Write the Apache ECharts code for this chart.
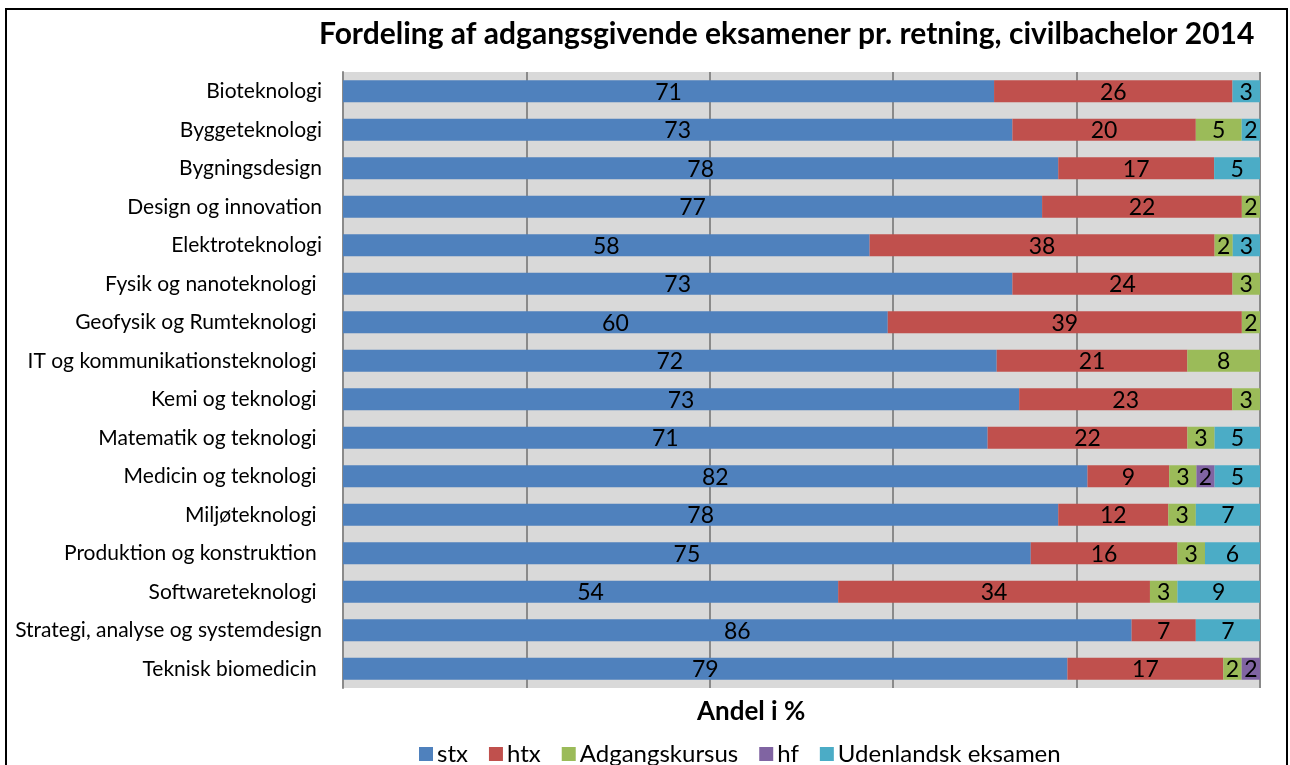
<!DOCTYPE html>
<html>
<head>
<meta charset="utf-8">
<title>Fordeling af adgangsgivende eksamener</title>
<script src="https://cdn.jsdelivr.net/npm/echarts@6/dist/echarts.min.js"></script>
<style>
  html, body { margin: 0; padding: 0; background: #fff; }
  #chart { width: 1290px; height: 765px; }
</style>
</head>
<body>
<div id="chart"></div>
<script>
// retninger (trailing spaces as in the source sheet)
var categories = [
  'Bioteknologi', 'Byggeteknologi', 'Bygningsdesign', 'Design og innovation',
  'Elektroteknologi', 'Fysik og nanoteknologi ', 'Geofysik og Rumteknologi ',
  'IT og kommunikationsteknologi ', 'Kemi og teknologi ', 'Matematik og teknologi ',
  'Medicin og teknologi ', 'Miljøteknologi ', 'Produktion og konstruktion ',
  'Softwareteknologi ', 'Strategi, analyse og systemdesign', 'Teknisk biomedicin '
]
var stx = [71, 73, 78, 77, 58, 73, 60, 72, 73, 71, 82, 78, 75, 54, 86, 79]
var htx = [26, 20, 17, 22, 38, 24, 39, 21, 23, 22, 9, 12, 16, 34, 7, 17]
var adgangskursus = [0, 5, 0, 2, 2, 3, 2, 8, 3, 3, 3, 3, 3, 3, 0, 2]
var hf = [0, 0, 0, 0, 0, 0, 0, 0, 0, 0, 2, 0, 0, 0, 0, 2]
var udenlandsk = [3, 2, 5, 0, 3, 0, 0, 0, 0, 5, 5, 7, 6, 9, 7, 0]

var seriesDefs = [
  { name: 'stx', values: stx, color: '#4f81bd' },
  { name: 'htx', values: htx, color: '#c0504d' },
  { name: 'Adgangskursus', values: adgangskursus, color: '#9bbb59' },
  { name: 'hf', values: hf, color: '#8064a2' },
  { name: 'Udenlandsk eksamen', values: udenlandsk, color: '#4bacc6' }
]

// 100% stacked: scale each row to its total, keep the label as read
var rowTotals = categories.map(function (c, i) {
  return seriesDefs.reduce(function (s, d) { return s + d.values[i] }, 0)
})

var font = 'Lato, "Open Sans", sans-serif'

var chart = echarts.init(document.getElementById('chart'))
chart.setOption({
  animation: false,
  textStyle: { fontFamily: font },
  title: {
    text: 'Fordeling af adgangsgivende eksamener pr. retning, civilbachelor 2014',
    left: 314,
    top: 14,
    textStyle: { fontFamily: font, fontSize: 30, fontWeight: 'bold', color: '#000' }
  },
  legend: {
    left: 414,
    top: 737,
    icon: 'rect',
    itemWidth: 14,
    itemHeight: 14,
    itemGap: 21,
    itemStyle: { borderWidth: 0 },
    textStyle: { fontFamily: font, fontSize: 24, color: '#000', padding: [0, 0, 0, -1] },
    data: seriesDefs.map(function (d) { return d.name })
  },
  grid: {
    left: 343,
    right: 30,
    top: 72,
    bottom: 77,
    show: true,
    backgroundColor: '#d9d9d9',
    borderWidth: 0
  },
  xAxis: {
    type: 'value',
    min: 0,
    max: 100,
    interval: 20,
    axisLabel: { show: false },
    axisTick: { show: false },
    axisLine: { show: false },
    splitLine: { lineStyle: { color: '#8a8a8a', width: 2 } }
  },
  yAxis: {
    type: 'category',
    inverse: true,
    data: categories,
    axisTick: { show: false },
    axisLine: { show: true, lineStyle: { color: '#8a8a8a', width: 2 } },
    axisLabel: { fontFamily: font, fontSize: 21, color: '#000', margin: 21 }
  },
  graphic: [
    {
      type: 'rect',
      shape: { x: 6, y: 9, width: 1281, height: 780 },
      style: { fill: 'none', stroke: '#000', lineWidth: 2 },
      silent: true
    },
    {
      type: 'text',
      left: 697,
      top: 699,
      style: { text: 'Andel i %', fontFamily: font, fontSize: 26, fontWeight: 'bold', fill: '#000' }
    }
  ],
  series: seriesDefs.map(function (d) {
    return {
      name: d.name,
      type: 'bar',
      stack: 'total',
      barWidth: 22,
      itemStyle: { color: d.color },
      label: {
        show: true,
        position: 'inside',
        color: '#000',
        fontFamily: font,
        fontSize: 23,
        offset: [0, 1],
        formatter: function (p) { return p.data.raw ? String(p.data.raw) : '' }
      },
      data: d.values.map(function (v, i) {
        return { value: v * 100 / rowTotals[i], raw: v }
      })
    }
  })
})
</script>
</body>
</html>
